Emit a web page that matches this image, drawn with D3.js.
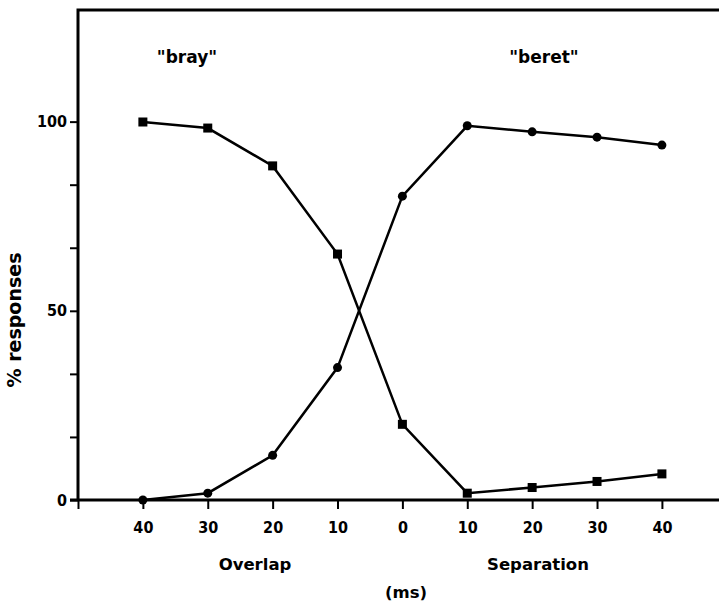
<!DOCTYPE html>
<html>
<head>
<meta charset="utf-8">
<script src="https://cdn.jsdelivr.net/npm/d3@7"></script>
<style>
  body { margin: 0; background: #fff; }
  text { font-family: "DejaVu Sans", sans-serif; font-weight: bold; fill: #000; }
  .tick text { font-family: "DejaVu Sans Condensed", "DejaVu Sans", sans-serif; }
</style>
</head>
<body>
<div class="chart"></div>
<script>
// delay in ms: negative = overlap, positive = separation
const delays = [-40, -30, -20, -10, 0, 10, 20, 30, 40];
const bray = [99.9, 98.3, 88.3, 65, 20, 1.8, 3.3, 4.9, 6.9];
const beret = [0, 1.8, 11.8, 35, 80.3, 98.9, 97.3, 95.9, 93.8];
const xTicks = [-50, -40, -30, -20, -10, 0, 10, 20, 30, 40];
const yTicks = [0, 50 / 3, 100 / 3, 50, 200 / 3, 250 / 3, 100];
const yLabels = [0, 50, 100];

const W = 719, H = 603;
const svg = d3.select(".chart").append("svg")
    .attr("width", W)
    .attr("height", H);

const x = d3.scaleLinear().domain([-50, 48.8]).range([78, 719]);
const y = d3.scaleLinear().domain([0, 129.5]).range([500, 10]);

// y axis
const yAxis = d3.axisLeft(y)
    .tickValues(yTicks)
    .tickSize(8)
    .tickPadding(3)
    .tickFormat(d => yLabels.some(v => Math.abs(v - d) < 1e-6) ? d3.format("d")(d) : "");
svg.append("g")
    .attr("transform", "translate(78,0)")
    .call(yAxis)
    .call(g => g.select(".domain").remove())
    .call(g => g.selectAll(".tick line").attr("stroke-width", 2))
    .call(g => g.selectAll(".tick text").attr("font-size", 16));

// x axis
const xAxis = d3.axisBottom(x)
    .tickValues(xTicks)
    .tickSize(9)
    .tickPadding(13)
    .tickFormat(d => d < -45 ? "" : Math.abs(d));
svg.append("g")
    .attr("transform", "translate(0,500)")
    .call(xAxis)
    .call(g => g.select(".domain").remove())
    .call(g => g.selectAll(".tick line").attr("stroke-width", 2))
    .call(g => g.selectAll(".tick text").attr("font-size", 16));

// frame: left, top, bottom
svg.append("path")
    .attr("d", `M${x(-50)},${y(0)}V${y(129.5)}H${W}`)
    .attr("fill", "none")
    .attr("stroke", "black")
    .attr("stroke-width", 3);
svg.append("line")
    .attr("x1", 70).attr("x2", W)
    .attr("y1", y(0)).attr("y2", y(0))
    .attr("stroke", "black")
    .attr("stroke-width", 3);

const line = d3.line()
    .x(d => x(d[0]))
    .y(d => y(d[1]));

const brayData = delays.map((d, i) => [d, bray[i]]);
const beretData = delays.map((d, i) => [d, beret[i]]);

[brayData, beretData].forEach(data => {
    svg.append("path")
        .datum(data)
        .attr("fill", "none")
        .attr("stroke", "black")
        .attr("stroke-width", 2.5)
        .attr("d", line);
});

svg.selectAll(".sq")
    .data(brayData)
    .join("rect")
    .attr("class", "sq")
    .attr("x", d => x(d[0]) - 4.5)
    .attr("y", d => y(d[1]) - 4.5)
    .attr("width", 9)
    .attr("height", 9)
    .attr("fill", "black");

svg.selectAll(".dot")
    .data(beretData)
    .join("circle")
    .attr("class", "dot")
    .attr("cx", d => x(d[0]))
    .attr("cy", d => y(d[1]))
    .attr("r", 4.5)
    .attr("fill", "black");

// labels
svg.append("text")
    .attr("x", 187).attr("y", 63)
    .attr("text-anchor", "middle")
    .attr("font-size", 17)
    .text('"bray"');
svg.append("text")
    .attr("x", 544).attr("y", 63)
    .attr("text-anchor", "middle")
    .attr("font-size", 17)
    .text('"beret"');

svg.append("text")
    .attr("x", 255).attr("y", 570)
    .attr("text-anchor", "middle")
    .attr("font-size", 16.5)
    .text("Overlap");
svg.append("text")
    .attr("x", 538).attr("y", 570)
    .attr("text-anchor", "middle")
    .attr("font-size", 16.5)
    .text("Separation");
svg.append("text")
    .attr("x", 406).attr("y", 598)
    .attr("text-anchor", "middle")
    .attr("font-size", 16.5)
    .text("(ms)");

svg.append("text")
    .attr("transform", `translate(21,320) rotate(-90)`)
    .attr("text-anchor", "middle")
    .attr("font-size", 19)
    .text("% responses");
</script>
</body>
</html>
